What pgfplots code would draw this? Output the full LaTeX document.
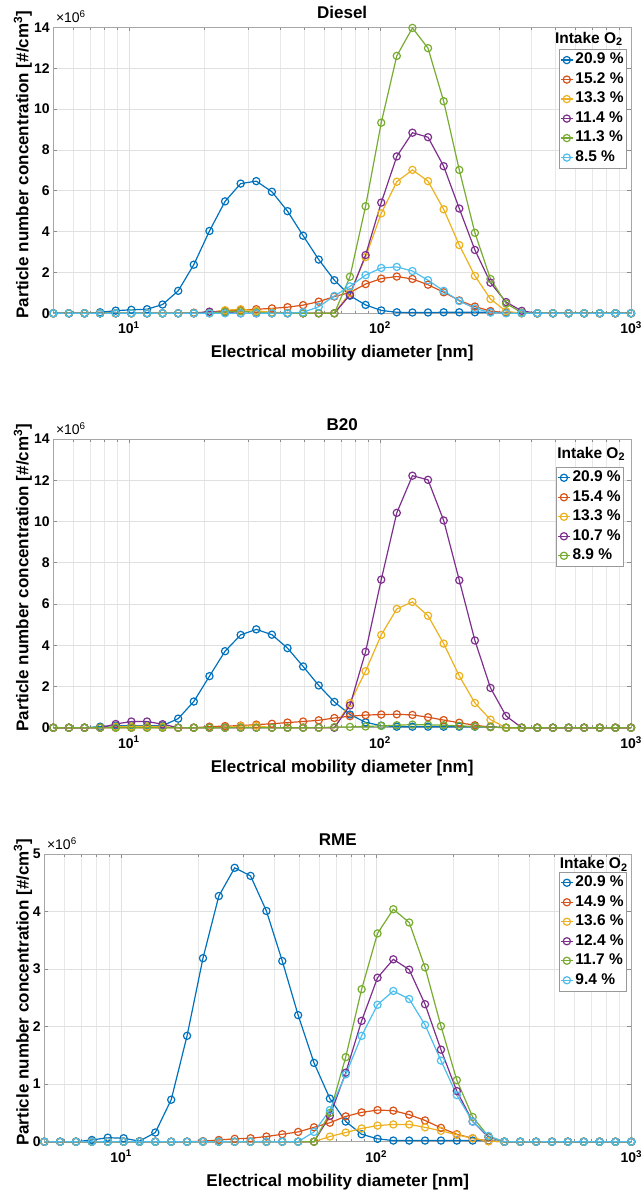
\documentclass[border=0pt]{standalone}
\usepackage{fontspec}
\setmainfont{Liberation Sans}
\usepackage{pgfplots}
\usepackage{pgfplotstable}
\pgfplotsset{compat=1.18}

\definecolor{c1}{RGB}{0,114,189}
\definecolor{c2}{RGB}{217,83,25}
\definecolor{c3}{RGB}{237,177,32}
\definecolor{c4}{RGB}{126,47,142}
\definecolor{c5}{RGB}{119,172,48}
\definecolor{c6}{RGB}{77,190,238}

% particle number size distributions, values in 10^6 #/cm^3
\pgfplotstableread{
x      a     b     c     d     e      f
5.000  0     0     0     0     0      0
5.770  0     0     0     0     0      0
6.658  0     0     0     0     0      0
7.683  0.05  0     0     0     0      0
8.866  0.13  0     0     0     0      0
10.23  0.17  0     0     0     0      0
11.81  0.20  0     0     0     0      0
13.62  0.43  0     0     0     0      0
15.72  1.10  0     0     0     0      0
18.14  2.38  0.03  0     0     0      0
20.94  4.03  0.06  0.05  0.08  0      0
24.16  5.48  0.12  0.15  0.05  0.07   0
27.88  6.35  0.16  0.20  0     0.10   0
32.17  6.47  0.20  0.12  0     0.05   0
37.13  5.95  0.24  0.05  0     0      0
42.84  5.00  0.30  0.02  0     0      0
49.43  3.80  0.40  0     0     0      0.05
57.04  2.63  0.57  0     0     0      0.32
65.83  1.62  0.82  0     0     0      0.85
75.96  0.86  1.02  1.00  0.90  1.79   1.32
87.66  0.41  1.43  2.75  2.85  5.24   1.87
101.2  0.14  1.70  4.89  5.42  9.33   2.22
116.7  0.05  1.80  6.44  7.68  12.60  2.27
134.7  0.04  1.68  7.02  8.84  13.97  2.07
155.4  0.04  1.40  6.47  8.62  12.98  1.62
179.4  0.05  1.03  5.09  7.20  10.38  1.10
207.0  0.05  0.63  3.34  5.13  7.02   0.60
238.9  0.05  0.33  1.83  3.10  3.94   0.24
275.6  0.05  0.11  0.70  1.50  1.68   0.04
318.1  0.04  0.02  0.10  0.55  0.48   0
367.0  0.02  0     0     0.12  0.03   0
423.5  0     0     0     0     0      0
488.7  0     0     0     0     0      0
564.0  0     0     0     0     0      0
650.8  0     0     0     0     0      0
751.0  0     0     0     0     0      0
866.6  0     0     0     0     0      0
1000   0     0     0     0     0      0
}\diesel

\pgfplotstableread{
x      a     b     c     d      e
5.000  0     0     0     0      0
5.770  0     0     0     0      0
6.658  0     0     0     0      0
7.683  0.05  0     0     0      0
8.866  0.10  0     0.05  0.18   0
10.23  0.10  0     0.07  0.30   0
11.81  0.10  0     0.07  0.30   0
13.62  0.10  0     0.05  0.17   0
15.72  0.44  0     0     0      0
18.14  1.27  0     0     0      0
20.94  2.50  0.05  0     0      0
24.16  3.71  0.08  0     0      0
27.88  4.50  0.10  0.08  0      0
32.17  4.77  0.15  0.10  0      0
37.13  4.51  0.19  0     0      0
42.84  3.86  0.25  0     0      0
49.43  2.97  0.30  0     0      0
57.04  2.05  0.36  0     0      0
65.83  1.25  0.47  0     0      0.03
75.96  0.64  0.56  1.20  1.08   0.04
87.66  0.26  0.61  2.74  3.68   0.06
101.2  0.10  0.64  4.50  7.18   0.09
116.7  0.05  0.65  5.76  10.42  0.12
134.7  0.05  0.62  6.10  12.22  0.15
155.4  0.05  0.51  5.43  12.02  0.14
179.4  0.05  0.37  4.08  10.05  0.12
207.0  0.05  0.24  2.51  7.15   0.09
238.9  0.05  0.12  1.20  4.23   0.06
275.6  0.05  0.03  0.39  1.93   0.03
318.1  0     0     0     0.57   0
367.0  0     0     0     0      0
423.5  0     0     0     0      0
488.7  0     0     0     0      0
564.0  0     0     0     0      0
650.8  0     0     0     0      0
751.0  0     0     0     0      0
866.6  0     0     0     0      0
1000   0     0     0     0      0
}\btwenty

\pgfplotstableread{
x      a     b     c     d     e     f
5.000  0     0     0     0     0     0
5.770  0     0     0     0     0     0
6.658  0     0     0     0     0     0
7.683  0.03  0     0     0     0     0
8.866  0.07  0     0     0     0     0
10.23  0.06  0     0     0     0     0
11.81  0.01  0     0     0     0     0
13.62  0.16  0     0     0     0     0
15.72  0.73  0     0     0     0     0
18.14  1.84  0     0     0     0     0
20.94  3.19  0.01  0     0     0     0
24.16  4.27  0.03  0     0     0     0
27.88  4.76  0.05  0     0     0     0
32.17  4.62  0.06  0     0     0     0
37.13  4.01  0.09  0     0     0     0
42.84  3.14  0.13  0     0     0     0
49.43  2.20  0.17  0     0     0     0
57.04  1.37  0.25  0     0     0     0.17
65.83  0.75  0.33  0.09  0.45  0.50  0.55
75.96  0.35  0.44  0.16  1.20  1.47  1.17
87.66  0.13  0.51  0.23  2.10  2.65  1.84
101.2  0.05  0.55  0.28  2.85  3.62  2.38
116.7  0.02  0.54  0.30  3.17  4.04  2.62
134.7  0.02  0.47  0.30  2.99  3.81  2.48
155.4  0.02  0.37  0.25  2.39  3.03  2.03
179.4  0.02  0.24  0.19  1.60  2.01  1.41
207.0  0.02  0.13  0.12  0.88  1.07  0.81
238.9  0.02  0.06  0.06  0.35  0.43  0.35
275.6  0.02  0.01  0.01  0.08  0.09  0.10
318.1  0     0     0     0     0     0
367.0  0     0     0     0     0     0
423.5  0     0     0     0     0     0
488.7  0     0     0     0     0     0
564.0  0     0     0     0     0     0
650.8  0     0     0     0     0     0
751.0  0     0     0     0     0     0
866.6  0     0     0     0     0     0
1000   0     0     0     0     0     0
}\rme

\newcommand{\lblfont}{\fontsize{17}{20}\selectfont\bfseries}
\newcommand{\tickfont}{\fontsize{14}{16}\selectfont\bfseries}
\newcommand{\legfont}{\fontsize{15.5}{18}\selectfont\bfseries}

\pgfplotsset{
  every axis/.append style={
    scale only axis, clip=false,
    xmin=5, xmax=1000, ymin=0,
    xmajorgrids, xminorgrids, ymajorgrids,
    major grid style={black!12, line width=0.6pt},
    minor grid style={black!9, line width=0.6pt},
    axis line style={black!35, line width=0.6pt},
    tick style={black!45, line width=0.6pt},
    tick align=inside,
    major tick length=4pt, minor tick length=2.5pt,
    ticklabel style={font=\tickfont},
    xticklabel style={yshift=-5pt},
    label style={font=\lblfont},
    title style={font=\lblfont, at={(0.5,1)}, anchor=base, yshift=2.5pt},
    xlabel style={at={(0.5,0)}, anchor=center, yshift=-40pt},
    legend cell align=left,
    legend style={anchor=north east, draw=black!40, fill=white, line width=0.6pt,
      font=\legfont, inner xsep=1pt, inner ysep=1pt, row sep=0pt,
      nodes={inner sep=2pt, text height=11.5pt, text depth=4pt}},
  },
  every axis plot/.append style={line width=1.2pt, mark=o, mark size=3.6pt, mark options={solid}},
  legend image code/.code={\draw[mark repeat=2,mark phase=2]
    plot coordinates {(0pt,0pt) (6pt,0pt) (12pt,0pt)};},
}

\begin{document}
\begin{tikzpicture}
\path[use as bounding box] (0,0) rectangle (643pt,-1194pt);

% ---------- Diesel ----------
\begin{axis}[at={(53.3pt,-313.3pt)}, anchor=south west, width=577.7pt, height=286pt,
  xmode=log,
  xtick={10,100,1000},
  xticklabels={10\textsuperscript{1},10\textsuperscript{2},10\textsuperscript{3}},
  minor xtick={6,7,8,9,20,30,40,50,60,70,80,90,200,300,400,500,600,700,800,900},
  ymax=14, ytick={0,2,...,14}, yticklabels={0,2,4,6,8,10,12,14},
  title={Diesel},
  xlabel={Electrical mobility diameter [nm]},
  ylabel={Particle number concentration [\#/cm\textsuperscript{3}]},
  ylabel style={at={(-0.0525,0.52)}, anchor=center},
  legend style={at={(0.993,0.924)}}]
\addplot[c1] table[x=x,y=a] {\diesel}; \addlegendentry{20.9 \%}
\addplot[c2] table[x=x,y=b] {\diesel}; \addlegendentry{15.2 \%}
\addplot[c3] table[x=x,y=c] {\diesel}; \addlegendentry{13.3 \%}
\addplot[c4] table[x=x,y=d] {\diesel}; \addlegendentry{11.4 \%}
\addplot[c5] table[x=x,y=e] {\diesel}; \addlegendentry{11.3 \%}
\addplot[c6] table[x=x,y=f] {\diesel}; \addlegendentry{8.5 \%}
\node[anchor=base east, inner sep=0pt, font=\legfont] at (rel axis cs:0.986,0.945) {Intake O\textsubscript{2}};
\node[anchor=base west, inner sep=0pt, font=\fontsize{14}{16}\selectfont] at (rel axis cs:0,1) [xshift=2.5pt, yshift=4.5pt] {×10\textsuperscript{6}};
\end{axis}

% ---------- B20 ----------
\begin{axis}[at={(53.3pt,-727.7pt)}, anchor=south west, width=577.7pt, height=288.7pt,
  xmode=log,
  xtick={10,100,1000},
  xticklabels={10\textsuperscript{1},10\textsuperscript{2},10\textsuperscript{3}},
  minor xtick={6,7,8,9,20,30,40,50,60,70,80,90,200,300,400,500,600,700,800,900},
  ymax=14, ytick={0,2,...,14}, yticklabels={0,2,4,6,8,10,12,14},
  title={B20},
  xlabel={Electrical mobility diameter [nm]},
  ylabel={Particle number concentration [\#/cm\textsuperscript{3}]},
  ylabel style={at={(-0.0525,0.52)}, anchor=center},
  legend style={at={(0.988,0.904)}}]
\addplot[c1] table[x=x,y=a] {\btwenty}; \addlegendentry{20.9 \%}
\addplot[c2] table[x=x,y=b] {\btwenty}; \addlegendentry{15.4 \%}
\addplot[c3] table[x=x,y=c] {\btwenty}; \addlegendentry{13.3 \%}
\addplot[c4] table[x=x,y=d] {\btwenty}; \addlegendentry{10.7 \%}
\addplot[c5] table[x=x,y=e] {\btwenty}; \addlegendentry{8.9 \%}
\node[anchor=base east, inner sep=0pt, font=\legfont] at (rel axis cs:0.99,0.934) {Intake O\textsubscript{2}};
\node[anchor=base west, inner sep=0pt, font=\fontsize{14}{16}\selectfont] at (rel axis cs:0,1) [xshift=2.5pt, yshift=4.5pt] {×10\textsuperscript{6}};
\end{axis}

% ---------- RME ----------
\begin{axis}[at={(44.3pt,-1141.7pt)}, anchor=south west, width=587pt, height=287.7pt,
  xmode=log,
  xtick={10,100,1000},
  xticklabels={10\textsuperscript{1},10\textsuperscript{2},10\textsuperscript{3}},
  minor xtick={6,7,8,9,20,30,40,50,60,70,80,90,200,300,400,500,600,700,800,900},
  ymax=5, ytick={0,1,...,5}, yticklabels={0,1,2,3,4,5},
  title={RME},
  xlabel={Electrical mobility diameter [nm]},
  ylabel={Particle number concentration [\#/cm\textsuperscript{3}]},
  ylabel style={at={(-0.0363,0.52)}, anchor=center},
  legend style={at={(0.9927,0.9385)}}]
\addplot[c1] table[x=x,y=a] {\rme}; \addlegendentry{20.9 \%}
\addplot[c2] table[x=x,y=b] {\rme}; \addlegendentry{14.9 \%}
\addplot[c3] table[x=x,y=c] {\rme}; \addlegendentry{13.6 \%}
\addplot[c4] table[x=x,y=d] {\rme}; \addlegendentry{12.4 \%}
\addplot[c5] table[x=x,y=e] {\rme}; \addlegendentry{11.7 \%}
\addplot[c6] table[x=x,y=f] {\rme}; \addlegendentry{9.4 \%}
\node[anchor=base east, inner sep=0pt, font=\legfont] at (rel axis cs:0.994,0.95) {Intake O\textsubscript{2}};
\node[anchor=base west, inner sep=0pt, font=\fontsize{14}{16}\selectfont] at (rel axis cs:0,1) [xshift=2.5pt, yshift=4.5pt] {×10\textsuperscript{6}};
\end{axis}
\end{tikzpicture}
\end{document}
